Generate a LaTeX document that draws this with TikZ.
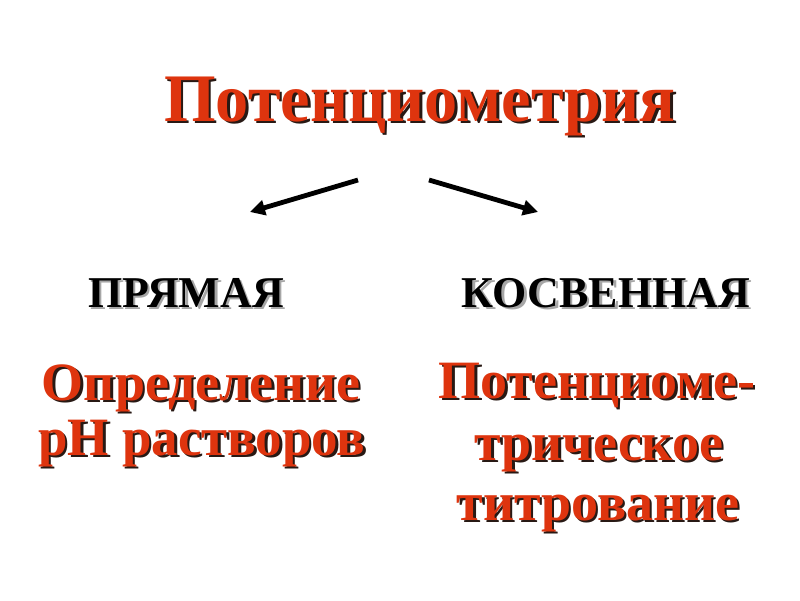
\documentclass[tikz,border=0pt]{standalone}
\usepackage{fontspec}
\setmainfont{Liberation Serif}
\usetikzlibrary{arrows.meta}
\definecolor{redtxt}{RGB}{222,52,14}
\definecolor{shade}{RGB}{40,25,20}
\tikzset{
  txt/.style={anchor=base, inner sep=0pt, font=\bfseries},
  redt/.style={txt, text=redtxt},
  blackt/.style={txt, text=black},
  shadowt/.style={txt, text=shade},
  greyshadow/.style={txt, text=black!35},
  arr/.style={line width=4.8pt, -{Triangle[length=15pt,width=15pt]}}
}
\newcommand\shtxt[5]{%
  \node[#2] at ([shift={(2.5,2.5)}]#3) {#5};
  \node[#1] (#4) at (#3) {#5};}
\begin{document}
\begin{tikzpicture}[x=1pt,y=-1pt]
\useasboundingbox (0,0) rectangle (800,600);
\shtxt{redt,font=\bfseries\fontsize{68}{68}\selectfont}{shadowt,font=\bfseries\fontsize{68}{68}\selectfont}{420,121}{title}{\scalebox{0.975}[1]{Потенциометрия}}
\shtxt{blackt,font=\bfseries\fontsize{44}{44}\selectfont}{greyshadow,font=\bfseries\fontsize{44}{44}\selectfont}{186,307}{direct}{ПРЯМАЯ}
\shtxt{blackt,font=\bfseries\fontsize{44}{44}\selectfont}{greyshadow,font=\bfseries\fontsize{44}{44}\selectfont}{606,307}{indirect}{КОСВЕННАЯ}
\shtxt{redt,font=\bfseries\fontsize{54}{54}\selectfont}{shadowt,font=\bfseries\fontsize{54}{54}\selectfont}{201,400}{l1}{Определение}
\shtxt{redt,font=\bfseries\fontsize{54}{54}\selectfont}{shadowt,font=\bfseries\fontsize{54}{54}\selectfont}{202,455}{l2}{\scalebox{0.98}[1]{pH растворов}}
\shtxt{redt,font=\bfseries\fontsize{54}{54}\selectfont}{shadowt,font=\bfseries\fontsize{54}{54}\selectfont}{597,398}{r1}{Потенциоме-}
\shtxt{redt,font=\bfseries\fontsize{54}{54}\selectfont}{shadowt,font=\bfseries\fontsize{54}{54}\selectfont}{599,460}{r2}{трическое}
\shtxt{redt,font=\bfseries\fontsize{54}{54}\selectfont}{shadowt,font=\bfseries\fontsize{54}{54}\selectfont}{598,520}{r3}{титрование}
\coordinate (la) at (358,180);
\coordinate (lb) at (250,212);
\coordinate (ra) at (429,180);
\coordinate (rb) at (538,212);
\draw[arr] (la) -- (lb);
\draw[arr] (ra) -- (rb);
\end{tikzpicture}
\end{document}
